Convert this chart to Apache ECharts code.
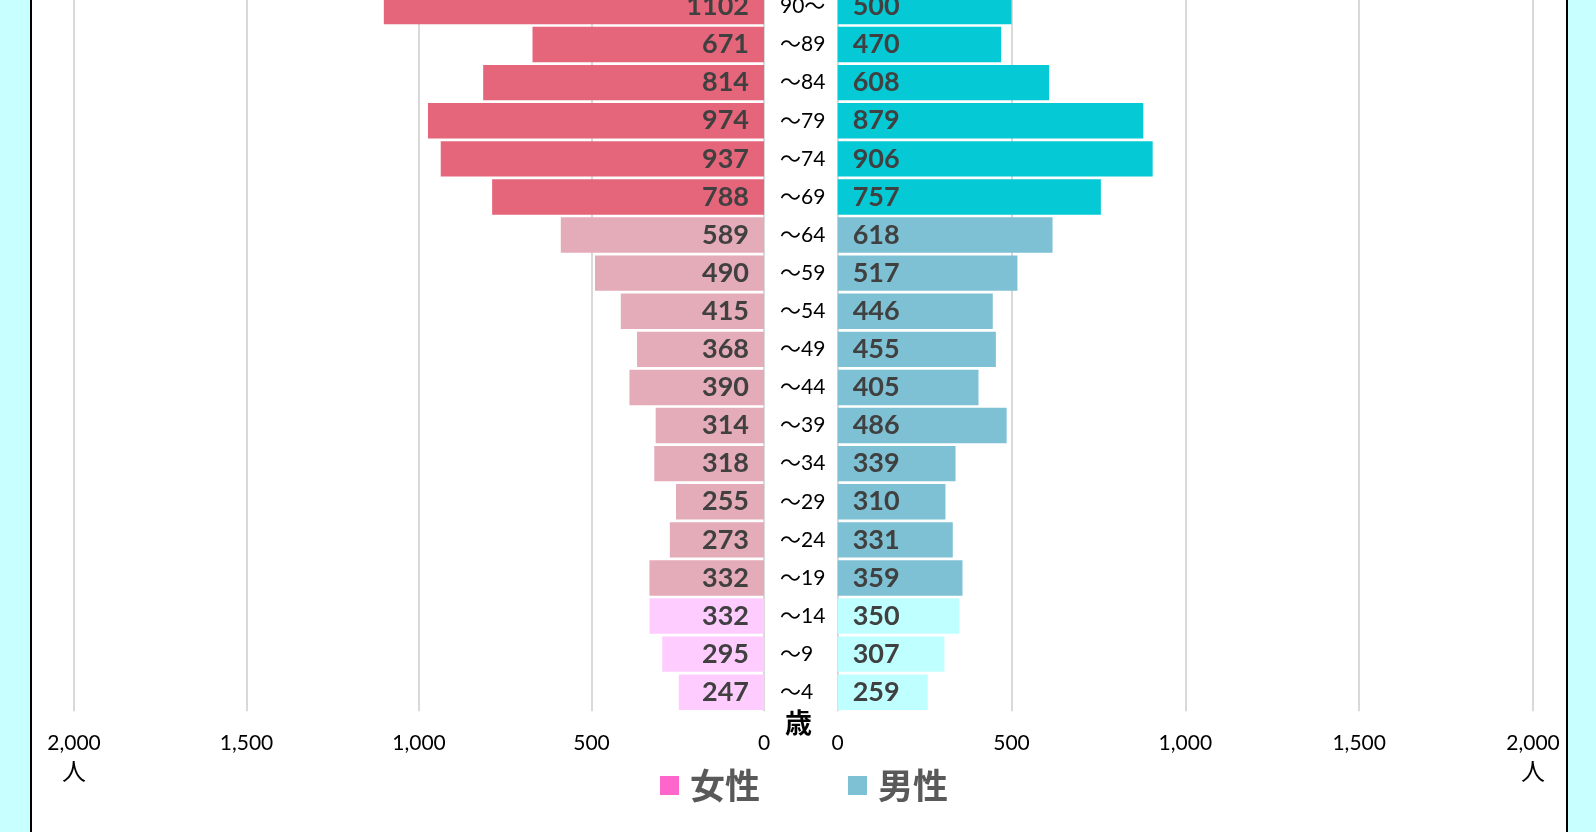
<!DOCTYPE html>
<html><head><meta charset="utf-8">
<script src="https://cdn.jsdelivr.net/npm/echarts@6/dist/echarts.min.js"></script>
<style>html,body{margin:0;padding:0;background:#c8ffff;}#c{width:1596px;height:832px;}</style>
</head><body><div id="c"></div>
<script>
const categories = ['〜4','〜9','〜14','〜19','〜24','〜29','〜34','〜39','〜44','〜49','〜54','〜59','〜64','〜69','〜74','〜79','〜84','〜89','90〜'];
const female = [247,295,332,332,273,255,318,314,390,368,415,490,589,788,937,974,814,671,1102];
const male = [259,307,350,359,331,310,339,486,405,455,446,517,618,757,906,879,608,470,500];
const axisTicks = [0,500,1000,1500,2000];

const femaleColors = ['#ffccff','#e4abb8','#e5667a'];
const maleColors = ['#c0ffff','#7fc1d4','#05cad5'];
function group(i){ return i < 3 ? 0 : (i < 13 ? 1 : 2); }

const numFont = 'Lato, "Noto Sans CJK JP", sans-serif';
const cjkFont = '"Noto Sans CJK JP", sans-serif';
const chart = echarts.init(document.getElementById('c'));
function tickFmt(v){
  const s = v.toLocaleString('en-US');
  return v === 2000 ? s + '\n{u|人}' : s;
}
const xCommon = {
  type:'value', min:axisTicks[0], max:axisTicks[axisTicks.length-1], interval:500,
  axisLine:{show:false}, axisTick:{show:false},
  splitLine:{show:true, lineStyle:{color:'#d9d9d9', width:2}},
  axisLabel:{formatter:tickFmt, color:'#000', fontSize:21, fontFamily:numFont, margin:18, lineHeight:28,
    rich:{u:{fontSize:24, fontFamily:cjkFont, color:'#000', lineHeight:28}}}
};
chart.setOption({
  animation:false,
  graphic:[{type:'rect', z:-10, shape:{x:31, y:-10, width:1536, height:860}, style:{fill:'#fff', stroke:'#000', lineWidth:2}},
    {type:'text', left:785, top:709, style:{text:'歳', fontSize:27, fontWeight:'bold', fill:'#000', fontFamily:cjkFont}}],
  legend:{
    bottom:24, left:655, itemWidth:19, itemHeight:19, itemGap:88,
    data:[{name:'女性', itemStyle:{color:'#ff66cc'}},{name:'男性', itemStyle:{color:'#7fc1d4'}}],
    textStyle:{fontSize:35, fontWeight:'bold', color:'#595959', fontFamily:cjkFont, padding:[0,0,0,6]},
    icon:'rect'
  },
  grid:[
    {left:74, width:690, top:-12.6, height:723.9, outerBoundsMode:'none', containLabel:false},
    {left:837.7, width:695.3, top:-12.6, height:723.9, outerBoundsMode:'none', containLabel:false}
  ],
  xAxis:[
    Object.assign({}, xCommon, {gridIndex:0, inverse:true}),
    Object.assign({}, xCommon, {gridIndex:1})
  ],
  yAxis:[
    {type:'category', gridIndex:0, data:categories, position:'right',
     axisLine:{show:false}, axisTick:{show:false},
     axisLabel:{align:'left', margin:16, color:'#000', fontSize:21, fontFamily:numFont}},
    {type:'category', gridIndex:1, data:categories,
     axisLine:{show:false}, axisTick:{show:false}, axisLabel:{show:false}}
  ],
  series:[
    {name:'女性', type:'bar', xAxisIndex:0, yAxisIndex:0, barCategoryGap:'7%',
     data:female.map((v,i)=>({value:v, itemStyle:{color:femaleColors[group(i)]}})),
     label:{show:true, position:'insideRight', distance:15, color:'#404040', fontSize:27, fontWeight:'bold', fontFamily:numFont}},
    {name:'男性', type:'bar', xAxisIndex:1, yAxisIndex:1, barCategoryGap:'7%',
     data:male.map((v,i)=>({value:v, itemStyle:{color:maleColors[group(i)]}})),
     label:{show:true, position:'insideLeft', distance:15, color:'#404040', fontSize:27, fontWeight:'bold', fontFamily:numFont}}
  ]
});
</script></body></html>
